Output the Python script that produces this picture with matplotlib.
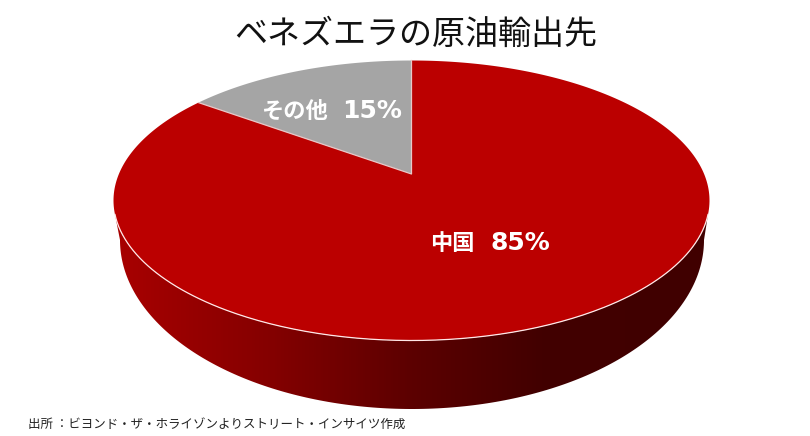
import numpy as np
import matplotlib
matplotlib.use("Agg")
import matplotlib.pyplot as plt
from matplotlib.colors import LinearSegmentedColormap
from matplotlib.patches import Polygon

plt.rcParams['font.family'] = ['Noto Sans CJK JP', 'DejaVu Sans']

title = "ベネズエラの原油輸出先"
source = "出所 ：ビヨンド・ザ・ホライゾンよりストリート・インサイツ作成"
names = ["その他", "中国"]
shares = [15, 85]
colors = ["#A5A5A5", "#BB0000"]

# ellipse of the pie top, in pixels
cx, cy, rx, ry = 411.5, 200.5, 298, 140
apex_y = 174
k = (apex_y - cy) / -ry

# ellipse of the pie bottom
bx, by, brx, bry = 412, 240, 292, 169


def project(theta):
    # theta runs clockwise from 12 o'clock; perspective moves the centre up
    u, v = np.sin(theta), np.cos(theta)
    d = 1 + k * v
    return cx + rx * u * np.sqrt(1 - k ** 2) / d, cy - ry * (v + k) / (1 + k * v)


fig = plt.figure(figsize=(8.1, 4.36), dpi=100)
ax = fig.add_axes([0, 0, 1, 1])
ax.set_xlim(0, 810)
ax.set_ylim(436, 0)
ax.axis("off")

# side wall with left to right gradient
t = np.linspace(np.pi, 2 * np.pi, 200)
top_t = np.linspace(np.pi + 0.1, 2 * np.pi - 0.1, 200)
upper_x = cx + rx * np.cos(top_t)
upper_y = cy - ry * np.sin(top_t)
lower_x = bx + brx * np.cos(t[::-1])
lower_y = by - bry * np.sin(t[::-1])
side = Polygon(np.column_stack([np.r_[upper_x, lower_x], np.r_[upper_y, lower_y]]),
               closed=True, fc="none", ec="none", transform=ax.transData)
ax.add_patch(side)
cmap = LinearSegmentedColormap.from_list(
    "side", [(0, "#A80000"), (0.25, "#860000"), (0.5, "#5C0000"), (0.72, "#420000"), (1, "#400000")])
im = ax.imshow(np.linspace(0, 1, 600).reshape(1, -1), cmap=cmap, aspect="auto",
               extent=(114, 709, 436, 0), zorder=1)
ax.set_xlim(0, 810)
ax.set_ylim(436, 0)
im.set_clip_path(side)

# slices, going counter clockwise from 12 o'clock for the first one
fractions = np.array(shares) / sum(shares)
start = 0.0
for i in range(len(shares)):
    sweep = 2 * np.pi * fractions[i]
    th = np.linspace(start, start - sweep, 300)
    x, y = project(th)
    ax.fill(np.r_[cx, x], np.r_[apex_y, y], color=colors[i], lw=0, zorder=2)
    start -= sweep

# thin light edges
th = np.linspace(0, -2 * np.pi * fractions[0], 100)
x, y = project(th)
ax.plot(np.r_[x[-1], cx, x[0]], np.r_[y[-1], apex_y, y[0]], color="#E8C8C8", lw=0.9, zorder=3)
ax.plot(upper_x, upper_y, color="#FFE8E8", lw=0.9, zorder=3)

ax.text(416, 34, title, fontsize=23.8, ha="center", va="center", color="#111111")

# names in the CJK face, numbers in a wider bold face
ax.text(261, 111, names[0], fontsize=16, fontweight="bold", ha="left", va="center",
        color="white", zorder=4)
ax.text(342, 111, f"{shares[0]}%", fontsize=18, fontweight="bold", family="DejaVu Sans",
        ha="left", va="center", color="white", zorder=4)
ax.text(430, 243, names[1], fontsize=16, fontweight="bold", ha="left", va="center",
        color="white", zorder=4)
ax.text(491, 243, f"{shares[1]}%", fontsize=18, fontweight="bold", family="DejaVu Sans",
        ha="left", va="center", color="white", zorder=4)
ax.text(28, 424, source, fontsize=9, ha="left", va="center", color="#222222")

fig.savefig("out.png", dpi=100)
